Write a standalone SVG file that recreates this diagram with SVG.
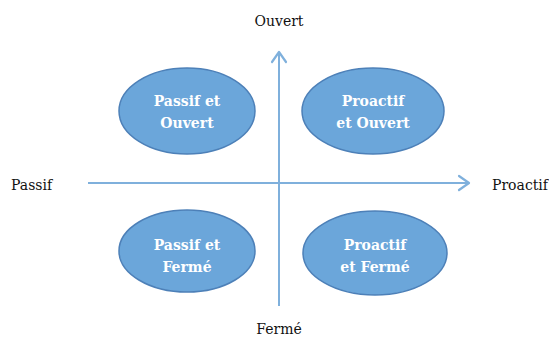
<svg xmlns="http://www.w3.org/2000/svg" width="549" height="343" viewBox="0 0 549 343">
<style>
.ax{stroke:#7fb0dc;stroke-width:2;fill:none}
.head{stroke:#7fb0dc;stroke-width:2.2;fill:none;stroke-linecap:round;stroke-linejoin:round}
.el{fill:#6ba6da;stroke:#4d80b8;stroke-width:1.5}
.nt{font-family:'DejaVu Serif',serif;font-weight:bold;font-size:14px;fill:#ffffff;text-anchor:middle}
.lb{font-family:'DejaVu Serif',serif;font-size:14px;fill:#111111}
</style>
<rect width="549" height="343" fill="#ffffff"/>
<g id="connectors">
<line class="ax" x1="88" y1="183" x2="469" y2="183"/>
<polyline class="head" points="459,176 469,183 459,190"/>
<line class="ax" x1="279" y1="306" x2="279" y2="52"/>
<polyline class="head" points="272,62 279,52 286,62"/>
</g>
<g id="passif-ouvert">
<ellipse class="el" cx="187" cy="111" rx="68" ry="43"/>
<text class="nt" x="187" y="106">Passif et</text>
<text class="nt" x="187" y="128">Ouvert</text>
</g>
<g id="proactif-ouvert">
<ellipse class="el" cx="373" cy="111" rx="71" ry="43"/>
<text class="nt" x="373" y="106">Proactif</text>
<text class="nt" x="373" y="128">et Ouvert</text>
</g>
<g id="passif-ferme">
<ellipse class="el" cx="187" cy="251" rx="68" ry="41"/>
<text class="nt" x="187" y="250">Passif et</text>
<text class="nt" x="187" y="272">Fermé</text>
</g>
<g id="proactif-ferme">
<ellipse class="el" cx="375" cy="253" rx="72" ry="42"/>
<text class="nt" x="375" y="250">Proactif</text>
<text class="nt" x="375" y="272">et Fermé</text>
</g>
<g id="labels">
<text class="lb" x="279" y="26" text-anchor="middle">Ouvert</text>
<text class="lb" x="11" y="190">Passif</text>
<text class="lb" x="492" y="190">Proactif</text>
<text class="lb" x="279" y="334" text-anchor="middle">Fermé</text>
</g>
</svg>
